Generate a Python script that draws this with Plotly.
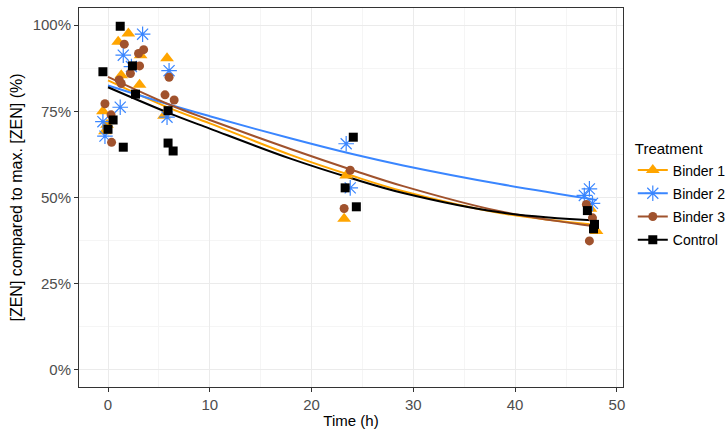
import plotly.graph_objects as go

# ---- data ----
treatments = ["Binder 1", "Binder 2", "Binder 3", "Control"]
colors = {"Binder 1": "#FFA500", "Binder 2": "#3A86FF", "Binder 3": "#A0522D", "Control": "#000000"}
symbols = {"Binder 1": "triangle-up", "Binder 2": "asterisk-open", "Binder 3": "circle", "Control": "square"}

b1_time = [-0.5, -0.3, -0.1, 1.0, 1.3, 2.0, 3.1, 3.2, 5.5, 5.8, 23.2, 23.4, 47.4, 48.0]
b1_zen = [75.0, 69.2, 71.1, 95.2, 85.5, 97.6, 82.7, 91.3, 73.7, 90.4, 43.8, 56.4, 46.7, 40.3]

b2_time = [-0.5, -0.3, 1.2, 1.5, 2.3, 3.4, 5.8, 6.0, 23.4, 23.8, 46.8, 47.3, 47.6]
b2_zen = [72.0, 67.8, 76.2, 91.3, 88.0, 97.4, 73.3, 86.8, 65.6, 52.8, 50.6, 52.5, 48.3]

b3_time = [-0.3, 0.3, 0.35, 1.1, 1.3, 1.6, 2.2, 3.0, 3.1, 3.5, 5.6, 6.0, 6.5, 23.2, 23.8, 47.0, 47.3, 47.6]
b3_zen = [77.2, 74.0, 66.0, 84.1, 83.1, 94.5, 86.0, 91.8, 88.2, 92.9, 79.8, 84.9, 78.3, 46.8, 57.9, 48.0, 37.4, 44.1]

ctl_time = [-0.5, 0.0, 0.5, 1.2, 1.5, 2.4, 2.7, 5.9, 5.9, 6.4, 23.3, 24.1, 24.4, 47.1, 47.7, 47.8]
ctl_zen = [86.5, 69.8, 72.5, 99.7, 64.6, 88.2, 80.0, 75.2, 65.8, 63.5, 52.8, 67.5, 47.3, 46.2, 40.9, 42.2]

# fitted curves
fit_time = [0, 6, 10, 18, 24, 29, 38.5, 48]
b1_fit = [84.0, 76.0, 71.5, 62.3, 56.3, 51.8, 45.5, 42.0]
b2_fit = [82.5, 77.0, 73.6, 67.1, 62.6, 59.3, 53.9, 49.3]
b3_fit = [85.0, 77.0, 72.5, 64.0, 58.0, 53.3, 46.0, 41.6]
ctl_fit = [82.0, 74.5, 70.0, 61.2, 55.5, 51.3, 45.7, 43.3]

series = {
    "Binder 1": (b1_time, b1_zen, b1_fit),
    "Binder 2": (b2_time, b2_zen, b2_fit),
    "Binder 3": (b3_time, b3_zen, b3_fit),
    "Control": (ctl_time, ctl_zen, ctl_fit),
}

marker_sizes = {"Binder 1": 12, "Binder 2": 13, "Binder 3": 9, "Control": 9}

fig = go.Figure()

for name in treatments:
    t, z, f = series[name]
    c = colors[name]
    fig.add_trace(go.Scatter(x=fit_time, y=f, mode="lines",
                             line=dict(color=c, width=2, shape="spline", smoothing=1.0),
                             showlegend=False, hoverinfo="skip"))

for name in treatments:
    t, z, f = series[name]
    c = colors[name]
    if name == "Binder 2":
        marker = dict(symbol=symbols[name], size=marker_sizes[name], color=c, line=dict(color=c, width=1.2))
    else:
        marker = dict(symbol=symbols[name], size=marker_sizes[name], color=c, line=dict(width=0))
    fig.add_trace(go.Scatter(x=t, y=z, mode="markers", marker=marker, showlegend=False, name=name))
    fig.add_trace(go.Scatter(x=[None], y=[None], mode="lines+markers", marker=marker,
                             line=dict(color=c, width=2), name=name, showlegend=True,
                             legendgroup=name))

fig.update_layout(
    width=727, height=430,
    margin=dict(l=79, r=104, t=8, b=43, autoexpand=False),
    paper_bgcolor="white", plot_bgcolor="white",
    font=dict(family="Liberation Sans, Arial, sans-serif", size=14, color="black"),
    legend=dict(title=dict(text="Treatment", font=dict(size=15)),
                x=1.018, xanchor="left",
                y=0.665, yanchor="top", font=dict(size=14), tracegroupgap=2, itemwidth=30,
                bgcolor="rgba(0,0,0,0)"),
    showlegend=True,
)

fig.update_xaxes(range=[-2.85, 50.6], tickvals=[0, 10, 20, 30, 40, 50],
                 title=dict(text="Time (h)", font=dict(size=15), standoff=3),
                 showgrid=True, gridcolor="#EBEBEB", gridwidth=1,
                 minor=dict(tickvals=[5, 15, 25, 35, 45], showgrid=True, gridcolor="#F5F5F5", gridwidth=0.6),
                 ticks="outside", ticklen=4, tickcolor="#333333", tickfont=dict(color="#4D4D4D", size=15),
                 showline=True, linecolor="#333333", linewidth=1, mirror=True, zeroline=False)
fig.update_yaxes(range=[-5, 105], tickvals=[0, 25, 50, 75, 100], ticktext=["0%", "25%", "50%", "75%", "100%"],
                 title=dict(text="[ZEN] compared to max. [ZEN] (%)", font=dict(size=16), standoff=6),
                 showgrid=True, gridcolor="#EBEBEB", gridwidth=1,
                 minor=dict(tickvals=[12.5, 37.5, 62.5, 87.5], showgrid=True, gridcolor="#F5F5F5", gridwidth=0.6),
                 ticks="outside", ticklen=4, tickcolor="#333333", tickfont=dict(color="#4D4D4D", size=15),
                 showline=True, linecolor="#333333", linewidth=1, mirror=True, zeroline=False)

fig.write_html("out.html", config={"displayModeBar": False},
               post_script="document.body.style.margin='0px';")
